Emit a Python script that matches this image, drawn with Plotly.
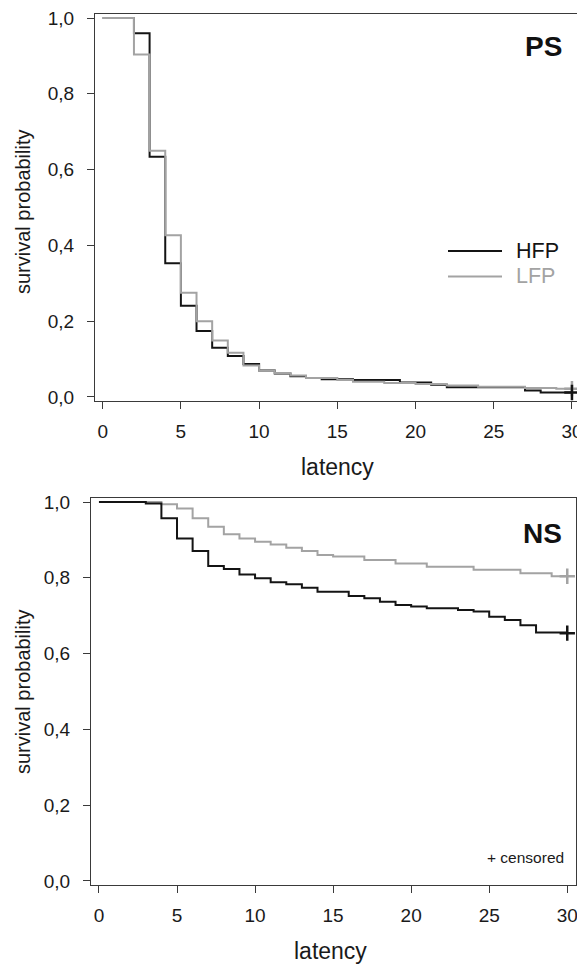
import plotly.graph_objects as go

# ---------------- data ----------------
# PS panel (top)
ps_hfp_t = [0, 2, 3, 4, 5, 6, 7, 8, 9, 10, 11, 12, 13, 14, 16, 19, 21, 22, 27, 28, 30]
ps_hfp_s = [1.0, 0.960, 0.634, 0.353, 0.241, 0.174, 0.130, 0.108, 0.087, 0.070, 0.062,
            0.055, 0.050, 0.047, 0.045, 0.038, 0.032, 0.026, 0.017, 0.012, 0.012]
ps_lfp_t = [0, 2, 3, 4, 5, 6, 7, 8, 9, 10, 11, 12, 13, 15, 16, 18, 20, 22, 24, 27, 29, 30]
ps_lfp_s = [1.0, 0.904, 0.650, 0.427, 0.275, 0.200, 0.149, 0.117, 0.083, 0.069, 0.063,
            0.057, 0.050, 0.045, 0.040, 0.037, 0.034, 0.030, 0.027, 0.024, 0.022, 0.022]

# NS panel (bottom)
ns_hfp_t = [0, 3, 4, 5, 6, 7, 8, 9, 10, 11, 12, 13, 14, 16, 17, 18, 19, 20, 21, 23, 24,
            25, 26, 27, 28, 30]
ns_hfp_s = [1.0, 0.996, 0.957, 0.904, 0.871, 0.831, 0.823, 0.809, 0.799, 0.788, 0.783,
            0.774, 0.763, 0.752, 0.746, 0.737, 0.728, 0.724, 0.720, 0.715, 0.711, 0.697,
            0.689, 0.675, 0.656, 0.656]
ns_lfp_t = [0, 4, 5, 6, 7, 8, 9, 10, 11, 12, 13, 14, 15, 17, 19, 21, 24, 27, 29, 30]
ns_lfp_s = [1.0, 0.994, 0.983, 0.957, 0.935, 0.915, 0.904, 0.895, 0.888, 0.879, 0.871,
            0.860, 0.856, 0.847, 0.838, 0.829, 0.821, 0.812, 0.804, 0.804]

# censored marks (time, survival)
ps_hfp_cens = ([30], [0.012])
ps_lfp_cens = ([30], [0.022])
ns_hfp_cens = ([30], [0.654])
ns_lfp_cens = ([30], [0.804])

x_ticks = [0, 5, 10, 15, 20, 25, 30]
x_ticktext = ["0", "5", "10", "15", "20", "25", "30"]
y_ticks = [0, 0.2, 0.4, 0.6, 0.8, 1.0]
y_ticktext = ["0,0", "0,2", "0,4", "0,6", "0,8", "1,0"]

series_names = ["HFP", "LFP"]
BLACK = "#141414"
GRAY = "#a3a3a3"
FONT = "Liberation Sans, Arial, sans-serif"

fig = go.Figure()


def add_curve(t, s, color, xa, ya, name):
    fig.add_trace(go.Scatter(x=t, y=s, mode="lines", line=dict(color=color, width=2, shape="hv"),
                             xaxis=xa, yaxis=ya, name=name, showlegend=False, hoverinfo="skip",
                             cliponaxis=False))


def add_cens(c, color, xa, ya):
    fig.add_trace(go.Scatter(x=c[0], y=c[1], mode="markers",
                             marker=dict(symbol="cross-thin", size=11, line=dict(color=color, width=2.5)),
                             xaxis=xa, yaxis=ya, showlegend=False, hoverinfo="skip", cliponaxis=False))


add_curve(ps_hfp_t, ps_hfp_s, BLACK, "x", "y", "HFP")
add_curve(ps_lfp_t, ps_lfp_s, GRAY, "x", "y", "LFP")
add_cens(ps_lfp_cens, GRAY, "x", "y")
add_cens(ps_hfp_cens, BLACK, "x", "y")

add_curve(ns_lfp_t, ns_lfp_s, GRAY, "x2", "y2", "LFP")
add_curve(ns_hfp_t, ns_hfp_s, BLACK, "x2", "y2", "HFP")
add_cens(ns_lfp_cens, GRAY, "x2", "y2")
add_cens(ns_hfp_cens, BLACK, "x2", "y2")

# page body has an 8px margin: the figure starts at (8, 8) in the window
OX, OY = 8, 8
W, H = 585 - OX, 964 - OY


def fx(px):
    return (px - OX) / W


def fy(py):
    return 1 - (py - OY) / H


axis_common = dict(showgrid=False, zeroline=False, showline=True, linecolor="#3a3a3a", linewidth=1,
                   mirror=True, ticks="outside", ticklen=7, tickwidth=1, tickcolor="#3a3a3a",
                   automargin=False, ticklabeloverflow="allow",
                   tickfont=dict(family=FONT, size=19, color="#1a1a1a"), fixedrange=True)
xstyle = dict(ticklabelstandoff=6, **axis_common)
ystyle = dict(ticklabelstandoff=9, **axis_common)

fig.update_layout(
    template="none",
    width=W, height=H,
    margin=dict(l=0, r=0, t=0, b=0, autoexpand=False),
    paper_bgcolor="white", plot_bgcolor="white",
    showlegend=False,
    xaxis=dict(domain=[fx(95), fx(579)], range=[-0.49, 30.45], anchor="y",
               tickvals=x_ticks, ticktext=x_ticktext, **xstyle),
    yaxis=dict(domain=[fy(401), fy(14)], range=[-0.0106, 1.0106], anchor="x",
               tickvals=y_ticks, ticktext=y_ticktext, **ystyle),
    xaxis2=dict(domain=[fx(91), fx(576)], range=[-0.51, 30.56], anchor="y2",
                tickvals=x_ticks, ticktext=x_ticktext, **xstyle),
    yaxis2=dict(domain=[fy(885), fy(498)], range=[-0.0106, 1.0106], anchor="x2",
                tickvals=y_ticks, ticktext=y_ticktext, **ystyle),
)


def label(text, px, py, size, color="#1a1a1a", xanchor="center", angle=0):
    return dict(text=text, xref="paper", yref="paper", x=fx(px), y=fy(py), xanchor=xanchor,
                yanchor="middle", textangle=angle, showarrow=False,
                font=dict(family=FONT, size=size, color=color))


ann = [
    label("latency", 337, 467, 23),
    label("latency", 330, 951, 23),
    label("survival probability", 23, 212, 20, angle=-90),
    label("survival probability", 23, 692, 20, angle=-90),
    label("<b>PS</b>", 564, 46, 28, color="#111111", xanchor="right"),
    label("<b>NS</b>", 564, 533, 28, color="#111111", xanchor="right"),
    label(series_names[0], 514, 251, 21.5, color=BLACK, xanchor="left"),
    label(series_names[1], 514, 276, 21.5, color=GRAY, xanchor="left"),
    label("+ censored", 566, 857, 15.5, xanchor="right"),
]

shapes = [
    dict(type="line", xref="paper", yref="paper", x0=fx(448), x1=fx(502), y0=fy(251), y1=fy(251),
         line=dict(color=BLACK, width=2)),
    dict(type="line", xref="paper", yref="paper", x0=fx(448), x1=fx(502), y0=fy(276.5), y1=fy(276.5),
         line=dict(color=GRAY, width=2)),
]

fig.update_layout(annotations=ann, shapes=shapes)

fig.write_html("out.html")
